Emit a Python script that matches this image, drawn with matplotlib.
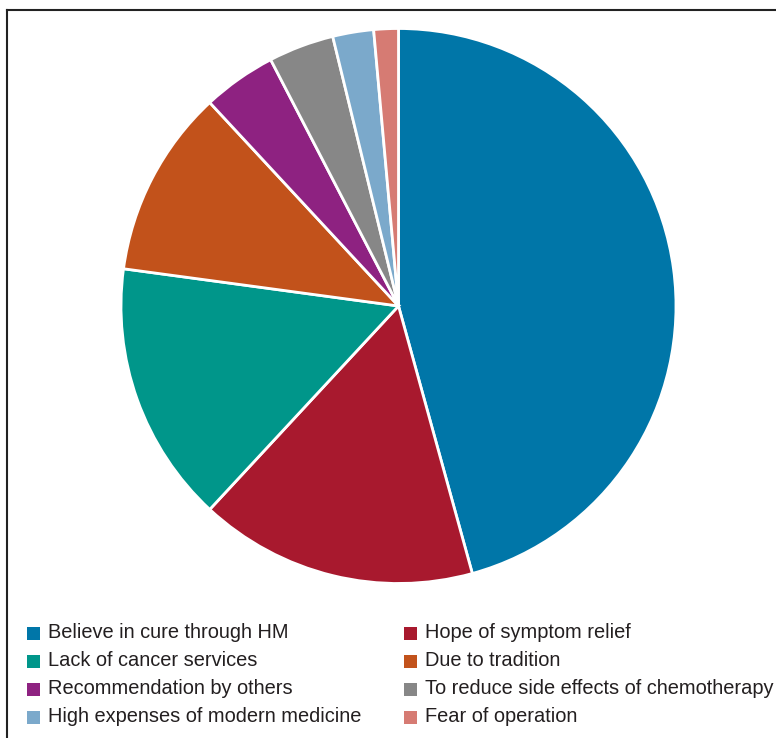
import matplotlib
matplotlib.use("Agg")
import matplotlib.pyplot as plt
from matplotlib.patches import Rectangle
from matplotlib.lines import Line2D

# Reasons for using herbal medicine (number of respondents)
reasons = [
    "Believe in cure through HM",
    "Hope of symptom relief",
    "Lack of cancer services",
    "Due to tradition",
    "Recommendation by others",
    "To reduce side effects of chemotherapy",
    "High expenses of modern medicine",
    "Fear of operation",
]
counts = [96, 34, 32, 23, 9, 8, 5, 3]
colors = ["#0076A8", "#A8192E", "#00968A", "#C2521B",
          "#8E2281", "#878787", "#7BA9CB", "#D67B73"]

W, H = 776, 738
fig = plt.figure(figsize=(W / 100, H / 100), dpi=100)

# Panel frame (left and top edges)
fig.add_artist(Line2D([7 / W, 7 / W], [0, 1 - 10 / H], color="#222222", lw=1.5,
                      transform=fig.transFigure))
fig.add_artist(Line2D([7 / W, 1], [1 - 10 / H, 1 - 10 / H], color="#222222", lw=1.5,
                      transform=fig.transFigure))

cx, cy, r = 398.5, 306, 277.5
ax = fig.add_axes([(cx - r) / W, (H - cy - r) / H, 2 * r / W, 2 * r / H])
wedges, _ = ax.pie(counts, colors=colors, startangle=90, counterclock=False,
                   radius=1.0, wedgeprops=dict(edgecolor="white", linewidth=2))
ax.set_xlim(-1, 1)
ax.set_ylim(-1, 1)
ax.set_aspect("equal")
ax.axis("off")

# Two-column legend below the pie
font = ["Liberation Sans", "DejaVu Sans"]
col_x = [27, 404]
row_y = [633, 661, 689, 717]
sq = 13
for i, (w, lab) in enumerate(zip(wedges, reasons)):
    col, row = i % 2, i // 2
    x0, y0 = col_x[col], row_y[row]
    fig.add_artist(Rectangle((x0 / W, (H - y0 - sq / 2) / H), sq / W, sq / H,
                             facecolor=w.get_facecolor(), edgecolor="none",
                             transform=fig.transFigure))
    fig.text((x0 + sq + 8) / W, (H - y0) / H, lab, family=font, fontsize=14.4,
             color="#231F20", va="center", ha="left")

fig.savefig("out.png", dpi=100)
